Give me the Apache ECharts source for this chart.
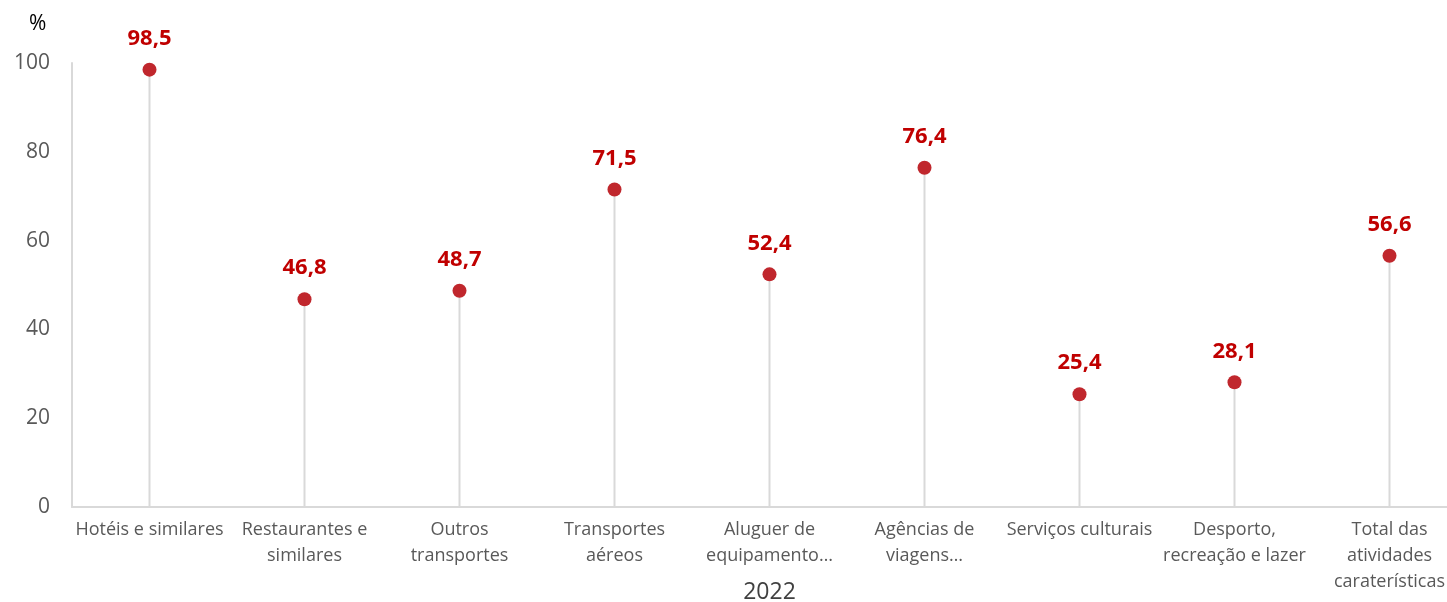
<!DOCTYPE html>
<html>
<head>
<meta charset="utf-8">
<script src="https://cdn.jsdelivr.net/npm/echarts@6/dist/echarts.min.js"></script>
<style>
html,body{margin:0;padding:0;background:#fff;}
#chart{width:1447px;height:602px;}
</style>
</head>
<body>
<div id="chart"></div>
<script>
var categories = ['Hotéis e similares', 'Restaurantes e\nsimilares', 'Outros\ntransportes', 'Transportes\naéreos',
    'Aluguer de\nequipamento…', 'Agências de\nviagens…', 'Serviços culturais', 'Desporto,\nrecreação e lazer',
    'Total das\natividades\ncaraterísticas'];
var values = [98.5, 46.8, 48.7, 71.5, 52.4, 76.4, 25.4, 28.1, 56.6];
var yTicks = [0, 20, 40, 60, 80, 100];

var chart = echarts.init(document.getElementById('chart'));
var option = {
    animation: false,
    backgroundColor: '#fff',
    textStyle: {fontFamily: '"Open Sans", "Noto Sans", sans-serif'},
    graphic: [{
        type: 'text', left: 29, top: 14,
        style: {text: '%', fontSize: 21, fill: '#000', fontFamily: '"Open Sans", sans-serif'}
    }],
    grid: {left: 72, top: 63, width: 1395, height: 444, outerBoundsMode: 'none', containLabel: false},
    xAxis: {
        type: 'category',
        data: categories,
        name: '2022',
        nameLocation: 'middle',
        nameGap: 74,
        nameMoveOverlap: false,
        nameTextStyle: {fontSize: 23, color: '#404040', verticalAlign: 'top'},
        axisLine: {lineStyle: {color: '#d9d9d9', width: 2}},
        axisTick: {show: false},
        axisLabel: {color: '#595959', fontSize: 18, lineHeight: 26, margin: 10, interval: 0}
    },
    yAxis: {
        type: 'value',
        min: yTicks[0], max: yTicks[yTicks.length - 1], interval: 20,
        axisLine: {show: true, lineStyle: {color: '#d9d9d9', width: 2}},
        axisTick: {show: false},
        splitLine: {show: false},
        axisLabel: {color: '#595959', fontSize: 21, margin: 22}
    },
    series: [{
        type: 'bar',
        data: values,
        barWidth: 2,
        itemStyle: {color: '#d9d9d9'},
        silent: true
    }, {
        type: 'scatter',
        data: values,
        symbolSize: 14,
        itemStyle: {color: '#c0272d', opacity: 1},
        label: {
            show: true,
            position: 'top',
            distance: 13,
            color: '#c00000',
            fontWeight: 'bold',
            fontSize: 22,
            formatter: function (p) { return String(p.value).replace('.', ','); }
        }
    }]
};
chart.setOption(option);
</script>
</body>
</html>
